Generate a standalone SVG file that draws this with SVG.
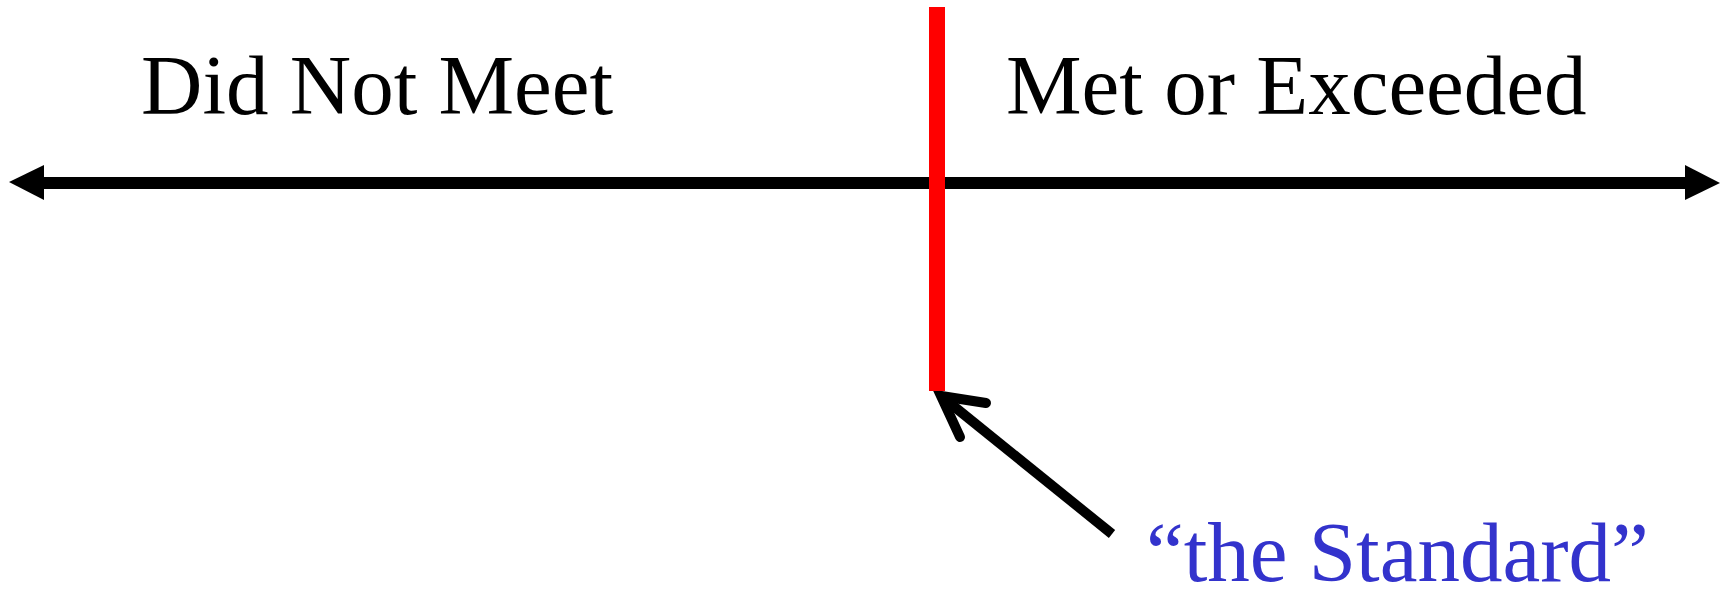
<svg xmlns="http://www.w3.org/2000/svg" width="1729" height="589" viewBox="0 0 1729 589">
<style>
.lbl{font-family:"Liberation Serif","Times New Roman",serif;font-size:85px;fill:#000}
.blue{fill:#3333CC}
</style>
<rect width="1729" height="589" fill="#fff"/>
<g id="connectors">
  <g id="axis">
    <line x1="40" y1="183" x2="1690" y2="183" stroke="#000" stroke-width="12"/>
    <polygon points="9,182 44,165 44,200" fill="#000"/>
    <polygon points="1720,183 1685,165 1685,200" fill="#000"/>
  </g>
  <g id="pointer" fill="none" stroke="#000" stroke-width="10">
    <line x1="1112" y1="534" x2="946" y2="400"/>
    <polyline points="986,403 941,396 960,437" stroke-linecap="round" stroke-linejoin="miter"/>
  </g>
</g>
<g id="standard-line">
  <rect x="929" y="7" width="16" height="384" fill="#FF0000"/>
</g>
<g id="did-not-meet">
  <text class="lbl" x="141" y="114">Did Not Meet</text>
</g>
<g id="met-or-exceeded">
  <text class="lbl" x="1006" y="114">Met or Exceeded</text>
</g>
<g id="the-standard">
  <text class="lbl blue" x="1146" y="581">“the Standard”</text>
</g>
</svg>
